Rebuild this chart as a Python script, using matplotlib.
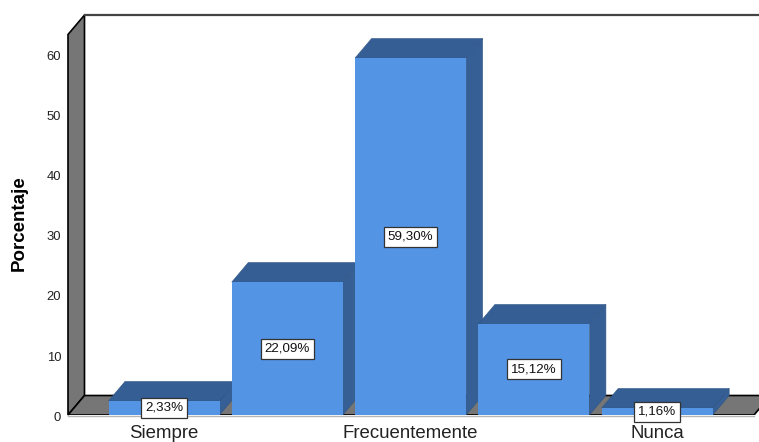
import matplotlib.pyplot as plt
from matplotlib.transforms import ScaledTranslation

categories = ["Siempre", "Casi siempre", "Frecuentemente", "Casi nunca", "Nunca"]
percentages = [2.33, 22.09, 59.30, 15.12, 1.16]
value_labels = ["2,33%", "22,09%", "59,30%", "15,12%", "1,16%"]
shown_ticks = [0, 2, 4]
y_ticks = [0, 10, 20, 30, 40, 50, 60]

FRONT = "#5394E5"
TOP = "#355F94"
SIDE = "#365F96"
WALL = "#767676"

W, H = 759, 442
STEP = 123.3  # pixels between bar centres
SCALE = 6.02  # pixels per percentage point
X_MIN = (68 - 164) / STEP
X_MAX = (759 - 164) / STEP
Y_MAX = 400 / SCALE
FLOOR_END = (754 - 164) / STEP
DX = 16.5 / STEP
DY = 19.5 / SCALE
BAR_W = 111 / STEP

plt.rcParams["font.family"] = ["Liberation Sans", "DejaVu Sans"]

fig = plt.figure(figsize=(W / 100, H / 100), dpi=100)
ax = fig.add_axes([68 / W, (H - 415) / H, (W - 68) / W, 400 / H])
ax.set_xlim(X_MIN, X_MAX)
ax.set_ylim(0, Y_MAX)

# side wall, floor and back edges of the 3D box
ax.fill([X_MIN, X_MIN + DX, X_MIN + DX, X_MIN],
        [0, DY, Y_MAX, Y_MAX - DY],
        facecolor=WALL, edgecolor="black", lw=1.2, clip_on=False, zorder=1)
ax.fill([X_MIN, FLOOR_END, FLOOR_END + DX, X_MIN + DX],
        [0, 0, DY, DY],
        facecolor=WALL, edgecolor="black", lw=1.2, zorder=1)
ax.plot([X_MIN + DX, X_MAX], [Y_MAX, Y_MAX], color="#444444", lw=1.6,
        clip_on=False, zorder=1)

# bars go left to right so each one covers its neighbour's side face
for i, v in enumerate(percentages):
    left = i - BAR_W / 2
    right = i + BAR_W / 2
    z = 2 + i * 0.1
    ax.fill([right, right + DX, right + DX, right], [0, DY, v + DY, v],
            facecolor=SIDE, edgecolor="#2F5585", lw=0.4, zorder=z)
    ax.fill([left, right, right + DX, left + DX], [v, v, v + DY, v + DY],
            facecolor=TOP, edgecolor="#2F5585", lw=0.4, zorder=z)
    ax.bar(i, v, width=BAR_W, color=FRONT, lw=0, zorder=z)

for i, v in enumerate(percentages):
    ax.text(i, v / 2, value_labels[i], ha="center", va="center", fontsize=9.6,
            color="#111111", zorder=5,
            bbox=dict(boxstyle="square,pad=0.3", facecolor="white",
                      edgecolor="#333333", lw=0.9))

for name in ["top", "left", "right"]:
    ax.spines[name].set_visible(False)
ax.spines["bottom"].set_position(("outward", 1))
ax.spines["bottom"].set_bounds(X_MIN, FLOOR_END)
ax.spines["bottom"].set_color("#B5B5B5")
ax.spines["bottom"].set_linewidth(1)
ax.spines["bottom"].set_zorder(4)

ax.set_yticks(y_ticks)
ax.set_xticks(shown_ticks)
ax.set_xticklabels([categories[i] for i in shown_ticks], fontsize=13.4, color="#222222")
ax.tick_params(axis="y", length=0, pad=5, labelsize=9.4, labelcolor="#222222")
ax.tick_params(axis="x", length=0, pad=6)

# tick numbers sit a little under their gridline height
nudge = ScaledTranslation(0, -1.0 / 72, fig.dpi_scale_trans)
for label in ax.get_yticklabels():
    label.set_transform(label.get_transform() + nudge)

ax.set_ylabel("Porcentaje", fontsize=13.5, fontweight="bold")
ax.yaxis.set_label_coords(-0.0725 + 10 / (W - 68), 0.48)

plt.savefig("out.png", dpi=100)
plt.close()
